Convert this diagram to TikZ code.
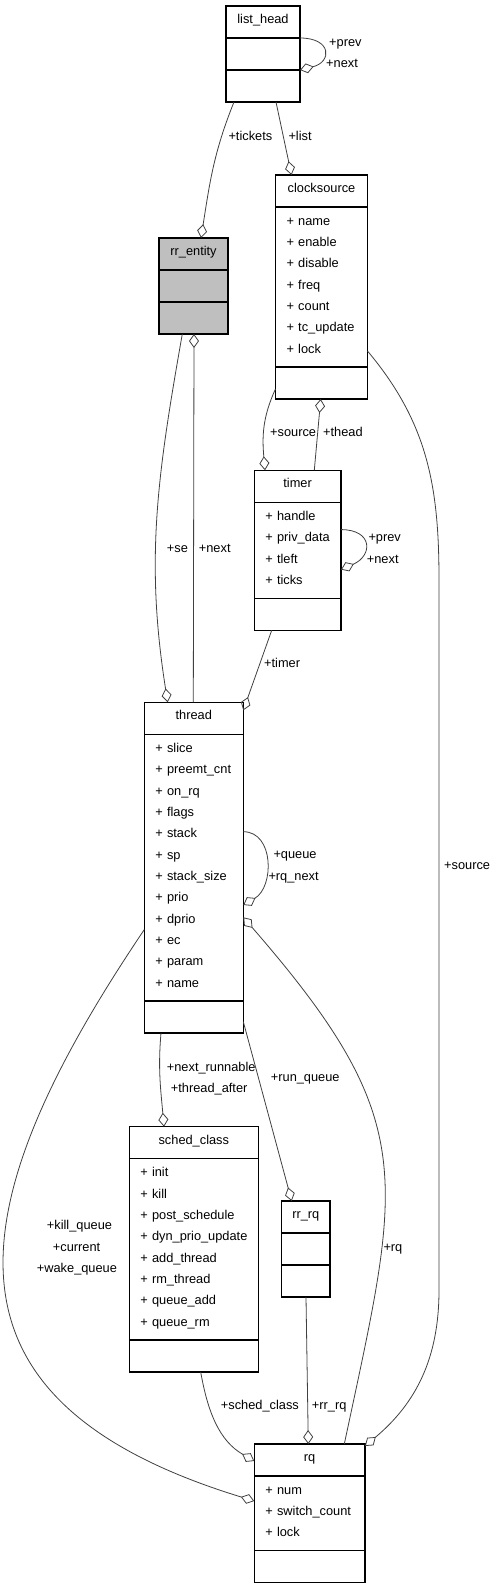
\documentclass[tikz,border=0pt]{standalone}
\usepackage{fontspec}
\setmainfont{Liberation Sans}
\definecolor{myedge}{RGB}{64,64,64}
\definecolor{mygray}{RGB}{191,191,191}
\usetikzlibrary{positioning,arrows.meta}

\begin{document}
\begin{tikzpicture}[x=1pt,y=1pt,
    font=\fontsize{12.8}{21.33}\selectfont,
    part/.style={draw,line width=1.1pt,minimum width=#1,minimum height=32pt,inner sep=0pt,outer sep=0pt},
    title/.style={part=#1,text height=9.2pt,text depth=6pt},
    members/.style={draw,line width=1.1pt,inner xsep=11pt,inner ysep=0pt,outer sep=0pt,
        align=left,text width=#1,
        execute at begin node={\rule{0pt}{12.8pt}},
        execute at end node={\rule[-8.6pt]{0pt}{8.6pt}}},
    lbl/.style={inner sep=0pt,anchor=west,text height=9.2pt,text depth=0pt},
    aggr/.style={draw=myedge,line width=0.8pt,-{Diamond[open,length=14pt,width=10pt]}}
    ]
    \useasboundingbox (0,0) rectangle (496,-1589);

    % the class list_head
    \node[title=74,anchor=north west] (listhead) at (226,-6) {list\_head};
    \node[part=74,below=0pt of listhead] (listhead-a) {};
    \node[part=74,below=0pt of listhead-a] (listhead-m) {};

    % the class rr_entity
    \node[title=69,fill=mygray,anchor=north west] (rrentity) at (159,-238) {rr\_entity};
    \node[part=69,fill=mygray,below=0pt of rrentity] (rrentity-a) {};
    \node[part=69,fill=mygray,below=0pt of rrentity-a] (rrentity-m) {};

    % the class clocksource
    \node[title=92,anchor=north west] (clocksrc) at (275.5,-175) {clocksource};
    \node[members=70,minimum height=160,below=0pt of clocksrc] (clocksrc-a)
        {+~name\\+~enable\\+~disable\\+~freq\\+~count\\+~tc\_update\\+~lock};
    \node[part=92,below=0pt of clocksrc-a] (clocksrc-m) {};

    % the class timer
    \node[title=86.7,anchor=north west] (timer) at (254.3,-470.3) {timer};
    \node[members=64.7,minimum height=96,below=0pt of timer] (timer-a)
        {+~handle\\+~priv\_data\\+~tleft\\+~ticks};
    \node[part=86.7,below=0pt of timer-a] (timer-m) {};

    % the class thread
    \node[title=99,anchor=north west] (thread) at (144.3,-702.3) {thread};
    \node[members=77,minimum height=266.7,below=0pt of thread] (thread-a)
        {+~slice\\+~preemt\_cnt\\+~on\_rq\\+~flags\\+~stack\\+~sp\\+~stack\_size\\+~prio\\+~dprio\\+~ec\\+~param\\+~name};
    \node[part=99,below=0pt of thread-a] (thread-m) {};

    % the class sched_class
    \node[title=129,anchor=north west] (schedclass) at (129.3,-1126.7) {sched\_class};
    \node[members=107,minimum height=181.3,below=0pt of schedclass] (schedclass-a)
        {+~init\\+~kill\\+~post\_schedule\\+~dyn\_prio\_update\\+~add\_thread\\+~rm\_thread\\+~queue\_add\\+~queue\_rm};
    \node[part=129,below=0pt of schedclass-a] (schedclass-m) {};

    % the class rr_rq
    \node[title=48.3,anchor=north west] (rrrq) at (281.7,-1201) {rr\_rq};
    \node[part=48.3,below=0pt of rrrq] (rrrq-a) {};
    \node[part=48.3,below=0pt of rrrq-a] (rrrq-m) {};

    % the class rq
    \node[title=110.7,anchor=north west] (rq) at (254.3,-1444) {rq};
    \node[members=88.7,minimum height=74.7,below=0pt of rq] (rq-a)
        {+~num\\+~switch\_count\\+~lock};
    \node[part=110.7,below=0pt of rq-a] (rq-m) {};

    % the edges
    \draw[aggr] (listhead-a.north east) .. controls +(32,0) and +(32,8) .. (listhead-m.north east);
    \draw[aggr] ([xshift=8]listhead-m.south west) to[out=-112,in=81] ([xshift=42]rrentity.north west);
    \draw[aggr] ([xshift=50]listhead-m.south west) -- ([xshift=16]clocksrc.north west);
    \draw[aggr] ([xshift=23.3]rrentity-m.south west) to[out=-100,in=99] ([xshift=23.4]thread.north west);
    \draw[aggr] ([xshift=49]thread.north west) -- ([xshift=35]rrentity-m.south west);
    \draw[aggr] ([yshift=10]clocksrc-m.south west) to[out=-115,in=95] ([xshift=10.7]timer.north west);
    \draw[aggr] ([xshift=60]timer.north west) -- ([xshift=45.2]clocksrc-m.south west);
    \draw[aggr] ([yshift=16]clocksrc-a.south east) to[out=-50,in=90] (439,-580) -- (439,-1290)
        to[out=-90,in=40] ([yshift=-2]rq.north east);
    \draw[aggr] ([yshift=-27.3]timer-a.north east) .. controls +(32,0) and +(32,14) .. ([yshift=28.7]timer-a.south east);
    \draw[aggr] ([xshift=17.4]timer-m.south west) -- ([yshift=-8]thread.north east);
    \draw[aggr] ([yshift=-97.4]thread-a.north east) .. controls +(31,0) and +(31,18) .. ([yshift=-170.7]thread-a.north east);
    \draw[aggr] ([xshift=90]rq.north west) to[out=78,in=-49,looseness=1.3] ([yshift=-183]thread-a.north east);
    \draw[aggr] ([xshift=16.7]thread-m.south west) to[out=-95,in=95] ([xshift=34.7]schedclass.north west);
    \draw[aggr] ([yshift=11.3]thread-m.south east) -- ([xshift=10]rrrq.north west);
    \draw[aggr] ([yshift=-195.3]thread-a.north west) to[out=-124,in=163,looseness=1.5] ([yshift=-25]rq-a.north west);
    \draw[aggr] ([xshift=71.4]schedclass-m.south west) to[out=-80,in=150] ([yshift=-17]rq.north west);
    \draw[aggr] ([xshift=24.3]rrrq-m.south west) -- ([xshift=54]rq.north west);

    % the edge labels
    \node[lbl] (l-prev) at (329,-41.7) {+prev};
    \node[lbl] (l-next) at (326,-62.7) {+next};
    \node[lbl] (l-tickets) at (228.3,-136) {+tickets};
    \node[lbl] (l-list) at (288.3,-136) {+list};
    \node[lbl] (l-source) at (270,-431.7) {+source};
    \node[lbl] (l-thead) at (323,-431.7) {+thead};
    \node[lbl] (l-tprev) at (368.3,-536.7) {+prev};
    \node[lbl] (l-tnext) at (366.7,-559) {+next};
    \node[lbl] (l-se) at (166.7,-548.3) {+se};
    \node[lbl] (l-enext) at (198.7,-548.3) {+next};
    \node[lbl] (l-timer) at (264,-663.3) {+timer};
    \node[lbl] (l-queue) at (273.3,-854.3) {+queue};
    \node[lbl] (l-rqnext) at (268.3,-876) {+rq\_next};
    \node[lbl] (l-csource) at (444,-864.5) {+source};
    \node[lbl] (l-nextrun) at (166.7,-1066.7) {+next\_runnable};
    \node[lbl] (l-after) at (170.7,-1087.7) {+thread\_after};
    \node[lbl] (l-runq) at (270.7,-1076.7) {+run\_queue};
    \node[lbl] (l-killq) at (46.7,-1225) {+kill\_queue};
    \node[lbl] (l-current) at (52.7,-1246.7) {+current};
    \node[lbl] (l-wakeq) at (36.7,-1267.7) {+wake\_queue};
    \node[lbl] (l-rq) at (383.3,-1247.3) {+rq};
    \node[lbl] (l-sched) at (220.7,-1405) {+sched\_class};
    \node[lbl] (l-rrrq) at (311.7,-1405) {+rr\_rq};
\end{tikzpicture}
\end{document}
